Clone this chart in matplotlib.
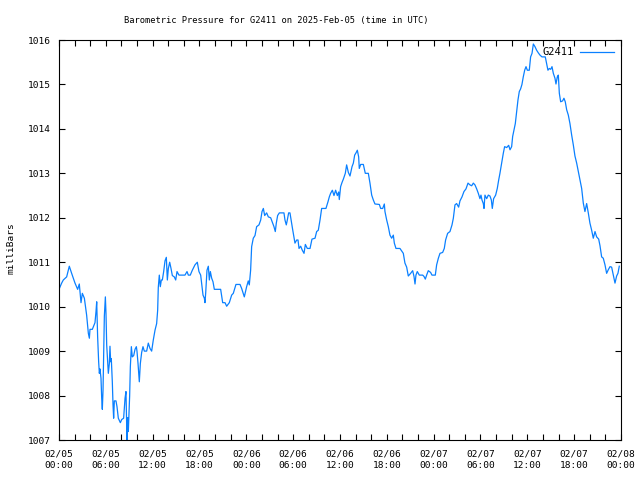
import matplotlib
matplotlib.use("Agg")
import matplotlib.pyplot as plt
import matplotlib.dates as mdates
import pandas as pd

# hours since 2025-02-05 00:00 UTC
hours = [
    0.0, 0.34, 0.55, 0.98, 1.32, 1.62, 2.05, 2.39, 2.6, 2.82, 2.99, 3.25, 3.54, 3.76, 3.89, 3.97,
    4.27, 4.61, 4.74, 4.83, 4.95, 5.08, 5.17, 5.25, 5.38, 5.47, 5.55, 5.64, 5.72, 5.81, 5.94, 6.02,
    6.11, 6.32, 6.45, 6.53, 6.62, 6.7, 6.83, 6.92, 7.0, 7.09, 7.3, 7.43, 7.6, 7.86, 8.03, 8.28,
    8.46, 8.58, 8.63, 8.71, 8.8, 8.88, 8.97, 9.05, 9.14, 9.27, 9.39, 9.57, 9.74, 9.91, 9.99, 10.12,
    10.29, 10.42, 10.59, 10.76, 10.93, 11.23, 11.44, 11.66, 11.87, 12.08, 12.3, 12.51, 12.64, 12.72,
    12.85, 12.98, 13.11, 13.24, 13.41, 13.58, 13.75, 13.88, 14.01, 14.18, 14.35, 14.52, 14.77, 14.95,
    15.12, 15.37, 16.14, 16.4, 16.57, 16.82, 17.08, 17.42, 17.72, 17.93, 18.15, 18.32, 18.45, 18.62,
    18.7, 18.79, 18.96, 19.13, 19.26, 19.39, 19.56, 19.73, 19.9, 20.71, 20.97, 21.27, 21.48, 21.82,
    22.12, 22.33, 22.67, 23.19, 23.4, 23.74, 24.04, 24.25, 24.38, 24.55, 24.68, 24.89, 25.11, 25.32,
    25.62, 25.84, 26.01, 26.18, 26.35, 26.6, 26.82, 27.12, 27.37, 27.54, 27.71, 27.84, 28.01, 28.23,
    28.82, 28.95, 29.12, 29.25, 29.42, 29.59, 29.76, 29.93, 30.1, 30.23, 30.45, 30.62, 30.75, 30.96,
    31.17, 31.39, 31.56, 31.81, 32.16, 32.41, 32.8, 33.01, 33.22, 33.44, 33.65, 34.2, 34.46, 34.63,
    34.8, 35.02, 35.23, 35.44, 35.66, 35.83, 35.91, 36.08, 36.25, 36.43, 36.68, 36.85, 37.07, 37.28,
    37.54, 37.71, 37.88, 38.05, 38.22, 38.39, 38.47, 38.65, 38.99, 39.24, 39.63, 39.84, 40.06, 40.27,
    40.48, 41.04, 41.21, 41.47, 41.68, 41.76, 41.98, 42.19, 42.4, 42.62, 42.83, 42.96, 43.17, 43.68,
    44.11, 44.32, 44.54, 44.75, 45.05, 45.31, 45.48, 45.61, 45.73, 45.9, 46.16, 46.59, 46.76, 46.93,
    47.1, 47.31, 47.61, 47.78, 48.21, 48.38, 48.6, 48.81, 49.15, 49.36, 49.53, 49.79, 50.09, 50.35,
    50.52, 50.73, 50.94, 51.2, 51.37, 51.63, 51.88, 52.14, 52.4, 52.65, 52.87, 53.08, 53.29, 53.51,
    53.72, 53.93, 54.06, 54.19, 54.36, 54.45, 54.57, 54.79, 55.0, 55.21, 55.39, 55.51, 55.68, 55.94,
    56.15, 56.33, 56.49, 56.71, 56.92, 57.09, 57.35, 57.61, 57.78, 57.99, 58.12, 58.29, 58.46, 58.63,
    58.8, 58.97, 59.14, 59.31, 59.48, 59.66, 59.83, 60.0, 60.25, 60.42, 60.6, 60.77, 60.98, 61.19,
    61.41, 61.62, 61.88, 62.3, 62.47, 62.64, 62.82, 62.99, 63.16, 63.33, 63.54, 63.67, 63.84, 63.97,
    64.1, 64.27, 64.52, 64.69, 64.86, 65.04, 65.25, 65.46, 65.68, 65.89, 66.1, 66.32, 66.53, 66.74,
    66.96, 67.17, 67.38, 67.6, 67.81, 68.02, 68.24, 68.45, 68.67, 68.88, 69.14, 69.31, 69.52, 69.73,
    69.95, 70.16, 70.37, 70.59, 70.8, 71.01, 71.23, 71.44, 71.61, 71.78,
]

pressure = [
    1010.39, 1010.53, 1010.6, 1010.67, 1010.91, 1010.75, 1010.53, 1010.39, 1010.51, 1010.09, 1010.3, 1010.19, 1009.81, 1009.4, 1009.29, 1009.49,
    1009.49, 1009.64, 1009.89, 1010.11, 1009.32, 1008.76, 1008.5, 1008.6, 1008.39, 1007.94, 1007.69, 1008.12, 1008.95, 1009.79, 1010.22, 1009.85,
    1009.14, 1008.5, 1008.72, 1009.11, 1008.76, 1008.83, 1008.31, 1007.79, 1007.49, 1007.88, 1007.88, 1007.75, 1007.49, 1007.39, 1007.46, 1007.49,
    1007.94, 1008.09, 1007.67, 1007.0, 1007.5, 1007.19, 1007.6, 1007.99, 1008.65, 1009.1, 1008.87, 1008.9, 1009.04, 1009.1, 1009.0, 1008.73,
    1008.31, 1008.72, 1008.97, 1009.1, 1009.0, 1009.0, 1009.18, 1009.06, 1009.0, 1009.25, 1009.47, 1009.62, 1009.92, 1010.43,
    1010.71, 1010.45, 1010.6, 1010.6, 1010.79, 1011.03, 1011.11, 1010.6, 1010.86, 1011.0, 1010.86, 1010.7, 1010.67, 1010.6,
    1010.79, 1010.71, 1010.71, 1010.79, 1010.71, 1010.71, 1010.82, 1010.94, 1011.0, 1010.79, 1010.71, 1010.45, 1010.26, 1010.19,
    1010.09, 1010.3, 1010.82, 1010.91, 1010.6, 1010.79, 1010.64, 1010.56, 1010.39, 1010.39, 1010.09, 1010.09, 1010.01, 1010.09,
    1010.26, 1010.3, 1010.5, 1010.5, 1010.41, 1010.22, 1010.45, 1010.58, 1010.49, 1010.82, 1011.35, 1011.54, 1011.6, 1011.8,
    1011.84, 1011.95, 1012.14, 1012.21, 1012.05, 1012.11, 1012.02, 1012.0, 1011.88, 1011.8, 1011.69, 1011.88, 1012.05, 1012.11,
    1012.11, 1011.95, 1011.84, 1011.95, 1012.11, 1012.11, 1011.92, 1011.74, 1011.57, 1011.43, 1011.5, 1011.5, 1011.31, 1011.36,
    1011.27, 1011.2, 1011.4, 1011.31, 1011.31, 1011.52, 1011.54, 1011.69, 1011.72, 1011.95, 1012.21, 1012.21, 1012.36, 1012.47,
    1012.55, 1012.62, 1012.5, 1012.62, 1012.5, 1012.58, 1012.41, 1012.7, 1012.79, 1012.87, 1013.0, 1013.19, 1013.02, 1012.94,
    1013.15, 1013.23, 1013.41, 1013.46, 1013.52, 1013.37, 1013.11, 1013.2, 1013.2, 1013.0, 1013.0, 1012.78, 1012.51, 1012.4,
    1012.31, 1012.3, 1012.21, 1012.21, 1012.31, 1012.14, 1011.95, 1011.8, 1011.61, 1011.54, 1011.61, 1011.43, 1011.31, 1011.31,
    1011.2, 1010.98, 1010.89, 1010.69, 1010.75, 1010.81, 1010.68, 1010.51, 1010.71, 1010.79, 1010.71, 1010.71, 1010.68, 1010.62,
    1010.71, 1010.81, 1010.77, 1010.71, 1010.71, 1010.94, 1011.09, 1011.2, 1011.22, 1011.31, 1011.5, 1011.65, 1011.69, 1011.84,
    1011.99, 1012.29, 1012.32, 1012.24, 1012.38, 1012.47, 1012.59, 1012.65, 1012.78, 1012.74, 1012.72, 1012.78, 1012.74, 1012.65,
    1012.55, 1012.43, 1012.51, 1012.4, 1012.32, 1012.21, 1012.51, 1012.43, 1012.51, 1012.49, 1012.4, 1012.21, 1012.43, 1012.51,
    1012.66, 1012.85, 1013.0, 1013.23, 1013.45, 1013.6, 1013.58, 1013.63, 1013.53, 1013.6, 1013.83, 1013.97, 1014.12, 1014.39,
    1014.65, 1014.84, 1014.9, 1015.0, 1015.17, 1015.32, 1015.4, 1015.32, 1015.32, 1015.62, 1015.7, 1015.91, 1015.85, 1015.77,
    1015.71, 1015.66, 1015.62, 1015.62, 1015.47, 1015.32, 1015.36, 1015.34, 1015.4, 1015.25, 1015.14, 1015.01, 1015.17, 1015.21,
    1014.8, 1014.61, 1014.63, 1014.69, 1014.61, 1014.43, 1014.31, 1014.12, 1013.86, 1013.64, 1013.39, 1013.23, 1013.04, 1012.85,
    1012.66, 1012.33, 1012.14, 1012.32, 1012.11, 1011.88, 1011.72, 1011.54, 1011.69, 1011.57, 1011.52, 1011.37, 1011.12, 1011.09,
    1010.94, 1010.75, 1010.83, 1010.9, 1010.89, 1010.71, 1010.53, 1010.69, 1010.75, 1010.91,
]

station = "G2411"
start = pd.Timestamp("2025-02-05 00:00")
end = pd.Timestamp("2025-02-08 00:00")
y_ticks = [1007, 1008, 1009, 1010, 1011, 1012, 1013, 1014, 1015, 1016]

times = [start + pd.Timedelta(hours=h) for h in hours]

font = "DejaVu Sans Mono"
fs = 6.8
blue = "#0a80ff"

fig = plt.figure(figsize=(6.4, 4.8), dpi=100)
ax = fig.add_axes([59 / 640, 40 / 480, 562 / 640, 400 / 480])

ax.plot(times, pressure, color=blue, lw=0.9, label=station)

ax.set_xlim(start, end)
ax.set_ylim(1007, 1016)
ax.set_yticks(y_ticks)
ax.xaxis.set_major_locator(mdates.HourLocator(byhour=[0, 6, 12, 18]))
ax.xaxis.set_minor_locator(mdates.HourLocator(byhour=range(0, 24, 2)))
ax.xaxis.set_major_formatter(mdates.DateFormatter("%m/%d\n%H:%M"))

ax.tick_params(which="both", direction="in", top=True, right=True,
               length=4, width=0.8, labelsize=fs)
ax.tick_params(axis="x", pad=7)
ax.tick_params(axis="y", pad=6)
for lab in ax.get_xticklabels() + ax.get_yticklabels():
    lab.set_family(font)
for lab in ax.get_xticklabels():
    lab.set_linespacing(1.35)
for sp in ax.spines.values():
    sp.set_linewidth(0.8)

leg = ax.legend(loc="upper right", frameon=False, markerfirst=False,
                prop={"family": font, "size": 7.5}, handlelength=3.2,
                borderaxespad=0.3, handletextpad=0.6)

fig.text(276 / 640, 1 - 20 / 480, "Barometric Pressure for G2411 on 2025-Feb-05 (time in UTC)",
         ha="center", va="center", family=font, fontsize=6.3)
fig.text(11 / 640, 1 - 248 / 480, "milliBars", rotation=90, ha="center", va="center",
         family=font, fontsize=fs)

fig.savefig("out.png", dpi=100)
